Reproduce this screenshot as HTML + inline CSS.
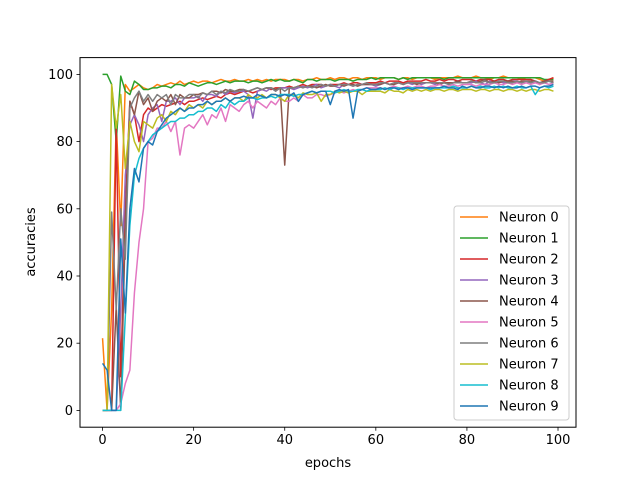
<!DOCTYPE html>
<html><head><meta charset="utf-8"><style>
body{margin:0;background:#fff}
svg text{font-family:"DejaVu Sans","Liberation Sans",sans-serif;font-size:13px;fill:#000}
</style></head><body>
<svg id="chart" width="640" height="480" xmlns="http://www.w3.org/2000/svg">
<rect width="640" height="480" fill="#fff"/>
<g id="lines"></g>
<rect x="80" y="57.6" width="496" height="369.6" fill="none" stroke="#000" stroke-width="1"/>
<g id="ticks"></g>
<text x="328" y="467" text-anchor="middle">epochs</text>
<text transform="translate(35,242) rotate(-90)" text-anchor="middle">accuracies</text>
<g id="legend"></g>
</svg>
<script>
const xTicks=[0,20,40,60,80,100];
const yTicks=[0,20,40,60,80,100];
const seriesNames=["Neuron 0","Neuron 1","Neuron 2","Neuron 3","Neuron 4","Neuron 5","Neuron 6","Neuron 7","Neuron 8","Neuron 9"];
const s0=[21.5,0,30,86,55,97,95,96,97,96,95.5,96,97,96.5,97,97.5,97,98,97,97.5,98,97.5,98,98,97.5,98,98.5,98,98,98.5,98,98,98.5,98,98.5,98,98.5,98,98.5,98.5,98.5,98,98.5,98.5,98,98.5,98.5,99,98.5,98.5,99,98.5,99,99,98.5,99,99,98.5,99,99,99,98.5,99,99,99,98.5,99,99,98.5,99,99,99,99,98.5,99,99,99,99,99.5,99,99,99,99.5,99,99,98.5,99,99,99.5,99,99,99,98.5,99,99,99,98.5,98,98.5,99];
const s1=[100,100,97,80,99.5,95,94,98,97,95.5,95.5,96,96,96.5,96.5,96,97,97,96.5,97.5,97,96.5,97,97.5,97.5,97,97.5,98,97.5,98,98,98,97.5,98,98,97.5,98,98.5,98,98.5,98,98,98.5,98,97.5,98.5,98.5,98,98.5,98.5,98.5,98,98.5,98.5,98.5,98,98.5,98.5,98.5,99,98.5,99,99,99,99,98.5,99,98.5,99,99,99,99,99,99,99,98.5,99,99,99,99,99,99,99,99,99,99,99,99,99,99,99,99,99,99,99,99,99,98.5,98.5,98.5];
const s2=[0,0,0,85,10,60,92,88,80,88,90,89,90,91,90.5,91,91.5,92,91,92,92,92.5,93,92.5,93,93.5,93,94,94.5,94,94.5,95,95,94.5,95,95.5,96,95.5,96,96,96,96.5,96,96.5,97,96.5,97,97,97,96.5,97,97,97,97.5,97,97.5,97.5,97,97.5,97.5,97.5,98,97.5,98,98,98,97.5,98,98,98,98,98.5,98,98,98.5,98,98.5,98.5,98,98.5,98.5,98.5,98,98.5,98.5,98.5,98,98.5,98.5,98,98.5,98.5,98.5,98.5,98.5,98,97,98,98.5,99];
const s3=[0,0,0,0,30,70,85,88,85,80,88,90,91,86,92,92,93,91,93,93,93,93.5,92,94,94,93.5,95,94,95,94.5,95,95,94,87,95,95.5,95,96,95,96,96,96,95.5,96,96.5,96,96.5,97,96,96.5,97,96.5,96,97,97,96.5,97,97,97,97,96.5,97,97.5,97,97,97.5,97,97.5,97,97.5,97,97.5,97.5,97,97.5,97.5,97,97.5,98,97.5,97.5,97.5,98,97.5,97,98,97.5,98,97.5,97.5,98,98,97.5,98,97.5,98,97.5,98,98,97.5];
const s4=[0,0,0,31,0,55,92,88,95,91,93,89,92,93,92,94,91,94,93,93,94,94,94.5,94,95,95,94.5,95.5,95,95,95.5,95.5,95,95.5,96,95.5,96,96,95.5,96,73,96,96,96.5,96,96.5,96.5,96,96.5,97,96.5,96.5,97,96.5,97,97,96.5,97,97,97,97,97,97.5,97,97,97.5,97,97.5,97.5,97,97.5,97.5,97.5,97.5,97,97.5,97.5,97.5,98,97.5,97.5,98,97.5,98,98.5,97.5,98,97.5,98,98,98,97.5,98,98,98,98,97.5,98,98,98];
const s5=[0,0,0,0,2,8,12,35,50,60,80,81,84,84,86,83,86,76,84,85,84,86,88,85,88,87,90,86,91,90,89,91,92,90,92,91,90,92,91,93,92,92,93,92,94,93,93,94,94,93.5,94,94.5,95,94.5,95,95.5,95,95.5,96,96,96,96,95.5,96,96.5,96,96,96.5,96,96.5,96.5,96,96.5,96.5,97,96.5,96.5,97,96.5,97,97,97,96.5,97,97,97,97.5,97,97,97.5,97,97.5,97,97.5,97,97.5,97,97.5,97,97.5];
const s6=[0,0,59,30,60,45,90,93,95,92,94,92,94,93,94,91,94,93,93,94,94,93,94.5,94,95,94,95,94.5,95.5,95,95,95.5,95,95.5,96,95.5,96,96,95,96,95,96,96,96.5,96,96.5,96,96.5,97,96.5,97,96.5,97,97,97,96.5,97,97,97.5,97,97,97.5,97.5,97,97.5,97.5,97,97.5,97.5,97.5,97.5,97.5,97.5,97.5,97.5,97.5,97,97.5,97.5,97.5,97.5,98,97.5,97.5,98,97.5,97.5,98,98,97.5,97.5,98,97.5,98,97.5,98,97.5,97.5,98,97.5];
const s7=[0,0,97,84,94,72,86,80,77,86,85,84,87,88,86,89,88,90,89,91,90,91,90,92,91,92,92,93,92,93,93,92,94,93,93,94,93,94,94,93,92,94,94,93,94.5,94,94,94.5,92,94,94,95,94.5,95,94.5,95,95,94,95,95,95,95,94.5,95.5,95,95,94.5,95.5,95,95.5,95,95.5,95,95.5,95.5,95,95.5,95.5,95,95.5,95.5,95.5,95,95.5,95.5,95,95.5,95.5,95,95.5,95.5,95,95.5,95,95.5,95.5,95,95.5,95.5,95];
const s8=[0,0,0,0,0,28,55,70,75,78,80,82,83,84,85,86,86,87,87,88,88,89,89,90,90,89,91,90,92,91,92,92,93,93,92.5,93,93,93.5,93,94,94,94,93.5,94,94,94.5,95,94.5,95,95,95,94.5,95,95.5,95,95,95.5,95.5,95,95.5,95.5,95.5,96,95.5,96,96,95.5,96,96,96,96,96,95.5,96,96,96,96,96.5,96,96,96,96.5,96,96.5,96,96,96.5,96,96.5,96,96,96.5,96,96,96.5,94,96,96.5,96,96.5];
const s9=[14,12,0,0,51,29,60,72,68,78,80,79,83,85,87,88,89,90,89,90,90,91,91,92,91,92,92,93,92,93,93,93.5,93,93,94,93.5,93,94,94,93.5,94,93.5,94.5,92,94,94.5,95,94.5,95,95,91,95,95.5,95,95.5,87,95,95.5,96,95.5,95.5,96,95.5,96,96,95.5,96,96,95.5,96,96,96,96,96,96,96.5,96,96,95.5,96.5,96,96.5,96,96,96.5,96.5,96,96.5,96,96.5,96,96,96.5,96,96.5,96.5,96,96.5,96.5,97];
const allSeries=[s0,s1,s2,s3,s4,s5,s6,s7,s8,s9];
const colors=["#ff7f0e","#2ca02c","#d62728","#9467bd","#8c564b","#e377c2","#7f7f7f","#bcbd22","#17becf","#1f77b4"];

const L=80,R=576,T=57.6,B=427.2,xmin=-4.95,xmax=103.95,ymin=-5,ymax=105;
function xs(v){return L+(v-xmin)/(xmax-xmin)*(R-L);}
function ys(v){return B-(v-ymin)/(ymax-ymin)*(B-T);}
const NS="http://www.w3.org/2000/svg";
function mk(tag,attrs,parent){const e=document.createElementNS(NS,tag);for(const k in attrs)e.setAttribute(k,attrs[k]);parent.appendChild(e);return e;}

const lg=document.getElementById('lines');
allSeries.forEach((s,i)=>{
  const d=s.map((v,j)=>(j?'L':'M')+xs(j).toFixed(2)+' '+ys(v).toFixed(2)).join(' ');
  const p=mk('path',{d:d,fill:'none',stroke:colors[i],'stroke-width':1.5,'stroke-linejoin':'round'},lg);
  
  
});

const tg=document.getElementById('ticks');
xTicks.forEach(v=>{
  const x=xs(v);
  const l=mk('line',{x1:x,x2:x,y1:B,y2:B+3.5,stroke:'#000','stroke-width':0.8},tg);
  
  
  const t=mk('text',{x:x,y:B+17,'text-anchor':'middle'},tg);t.textContent=v;
  
  
});
yTicks.forEach(v=>{
  const y=ys(v);
  const l=mk('line',{x1:L-3.5,x2:L,y1:y,y2:y,stroke:'#000','stroke-width':0.8},tg);
  
  
  const t=mk('text',{x:L-7,y:y+4.5,'text-anchor':'end'},tg);t.textContent=v;
  
  
});

const leg=document.getElementById('legend');
const box=mk('rect',{x:454,y:206,width:115,height:214,rx:3,fill:'#fff','fill-opacity':0.8,stroke:'#ccc','stroke-width':1},leg);


seriesNames.forEach((n,i)=>{
  const y=217+i*21;
  const l=mk('line',{x1:460,x2:488,y1:y,y2:y,stroke:colors[i],'stroke-width':1.5},leg);
  
  
  const t=mk('text',{x:499,y:y+4.5},leg);t.textContent=n;
  
  
});
</script>
</body></html>
